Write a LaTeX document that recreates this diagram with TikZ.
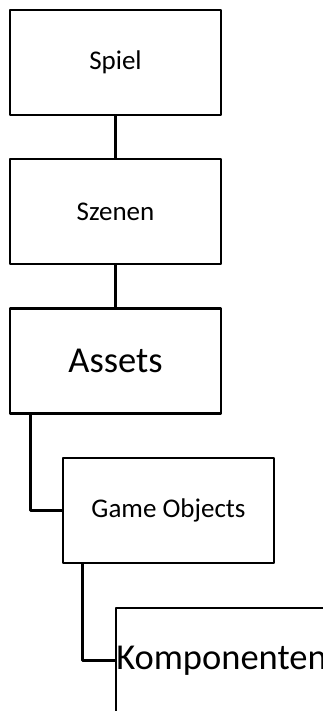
\documentclass[tikz,border=0pt]{standalone}
\usepackage{fontspec}
\setmainfont{Carlito}
\usetikzlibrary{calc}
\begin{document}
\begin{tikzpicture}[x=1pt,y=-1pt,
  box/.style={draw=black, line width=2.6pt, line join=round, fill=white,
    minimum width=211pt, minimum height=105pt, inner sep=0pt, anchor=center},
  small/.style={font=\fontsize{27}{32}\selectfont},
  big/.style={font=\fontsize{36.5}{42}\selectfont},
  link/.style={draw=black, line width=2.6pt, line join=round}]
\clip (0,0) rectangle (323,711);
\fill[white] (0,0) rectangle (323,711);
\node[box, small] (spiel) at (115.5,62.5) {Spiel};
\node[box, small] (szenen) at (115.5,211.5) {Szenen};
\node[box, big] (assets) at (115.5,361) {Assets};
\node[box, small] (go) at (168.5,510.5) {Game Objects};
\node[box, big] (komp) at (221.5,660.5) {Komponenten};
\coordinate (a1) at ($(assets.south west)+(22,0)$);
\coordinate (g1) at ($(go.south west)+(21,0)$);
\draw[link] (spiel.south) -- (szenen.north);
\draw[link] (szenen.south) -- (assets.north);
\draw[link] (a1) |- (go.west);
\draw[link] (g1) |- (komp.west);
\end{tikzpicture}
\end{document}
